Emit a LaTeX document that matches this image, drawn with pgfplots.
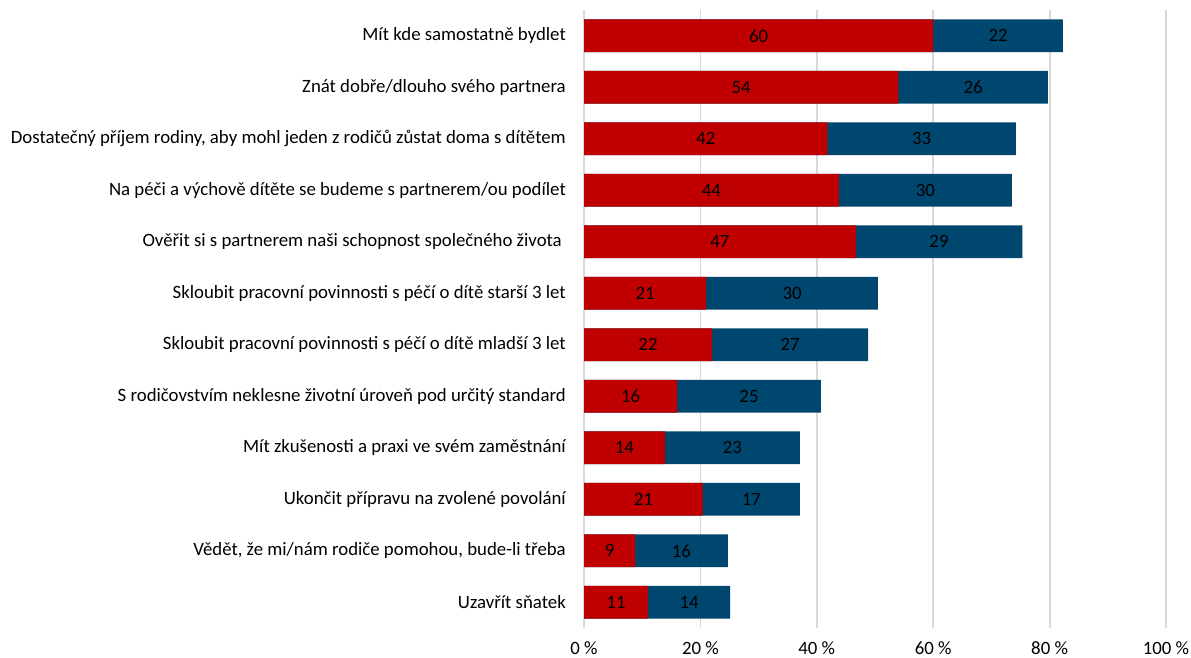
\documentclass[border=0pt]{standalone}
\usepackage{fontspec}
\setmainfont{Carlito}
\usepackage{pgfplots}
\usepackage{pgfplotstable}
\pgfplotsset{compat=1.18}
\definecolor{cred}{HTML}{C00000}
\definecolor{cblue}{HTML}{00476F}
\definecolor{cgrid}{HTML}{D9D9D9}

% pos: 1 = top row; r = red share, t = red+blue total, rl/bl = printed labels
\pgfplotstableread{
pos r t rl bl
1 60.0 82.3 60 22
2 54.0 79.7 54 26
3 41.8 74.2 42 33
4 43.8 73.5 44 30
5 46.7 75.3 47 29
6 21.0 50.5 21 30
7 22.0 48.8 22 27
8 16.0 40.7 16 25
9 13.9 37.1 14 23
10 20.4 37.1 21 17
11 8.8 24.7 9 16
12 11.0 25.1 11 14
}\data

\begin{document}
\fontsize{18.8}{22}\selectfont
\begin{tikzpicture}
\useasboundingbox (0pt,0pt) rectangle (1191pt,658pt);
\begin{axis}[
    at={(584pt,30pt)}, anchor=south west,
    scale only axis, width=582pt, height=618pt,
    xmin=0, xmax=100, ymin=0.5, ymax=12.5,
    y dir=reverse,
    axis line style={draw=none},
    major tick length=0pt,
    xmajorgrids, grid style={cgrid, line width=1.8pt},
    xtick={0,20,...,100},
    xticklabel={\pgfmathprintnumber{\tick}~\%},
    /pgf/number format/assume math mode=true,
    xticklabel style={anchor=center, inner sep=0pt, yshift=-20pt},
    ytick={1,...,12},
    yticklabels={
      Mít kde samostatně bydlet,
      Znát dobře/dlouho svého partnera,
      {Dostatečný příjem rodiny, aby mohl jeden z rodičů zůstat doma s dítětem},
      Na péči a výchově dítěte se budeme s partnerem/ou podílet,
      Ověřit si s partnerem naši schopnost společného života\kern4pt,
      Skloubit pracovní povinnosti s péčí o dítě starší 3 let,
      Skloubit pracovní povinnosti s péčí o dítě mladší 3 let,
      S rodičovstvím neklesne životní úroveň pod určitý standard,
      Mít zkušenosti a praxi ve svém zaměstnání,
      Ukončit přípravu na zvolené povolání,
      {Vědět, že mi/nám rodiče pomohou, bude-li třeba},
      Uzavřít sňatek},
    yticklabel style={anchor=east, inner sep=0pt, xshift=-18pt},
    clip=false,
    ]
\addplot[xbar, bar width=0.64, bar shift=0pt, fill=cblue, draw=none] table[x=t, y=pos]{\data};
\addplot[xbar, bar width=0.64, bar shift=0pt, fill=cred, draw=none] table[x=r, y=pos]{\data};
\addplot[draw=none, mark=none, nodes near coords, point meta=explicit symbolic,
  nodes near coords style={anchor=center, text=black}]
  table[x expr=\thisrow{r}/2, y=pos, meta=rl]{\data};
\addplot[draw=none, mark=none, nodes near coords, point meta=explicit symbolic,
  nodes near coords style={anchor=center, text=black}]
  table[x expr=(\thisrow{r}+\thisrow{t})/2, y=pos, meta=bl]{\data};
\end{axis}
\end{tikzpicture}
\end{document}
